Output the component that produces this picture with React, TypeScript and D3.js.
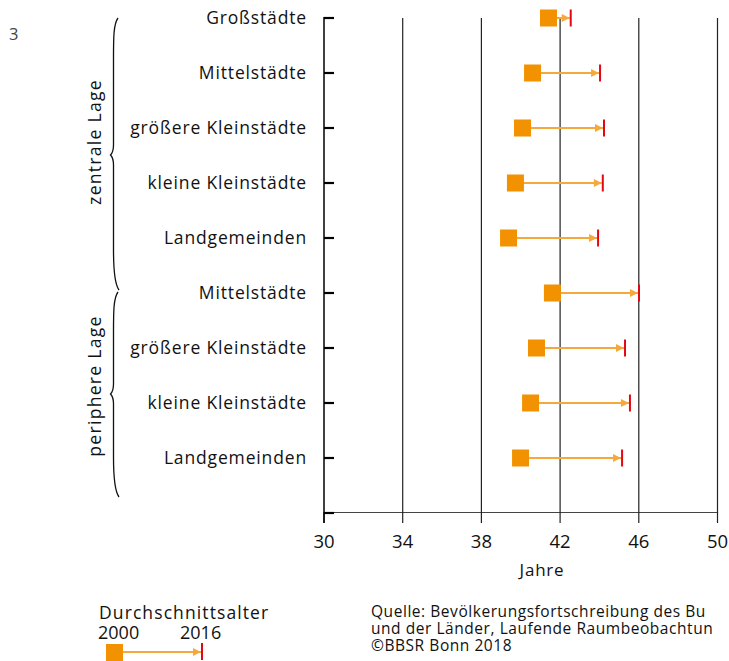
import React from "react";
import * as d3 from "d3";

const categories = [
  "Großstädte",
  "Mittelstädte",
  "größere Kleinstädte",
  "kleine Kleinstädte",
  "Landgemeinden",
  "Mittelstädte",
  "größere Kleinstädte",
  "kleine Kleinstädte",
  "Landgemeinden",
];
const age2000 = [41.41, 40.6, 40.09, 39.73, 39.38, 41.61, 40.8, 40.5, 39.99];
const age2016 = [42.54, 44.03, 44.23, 44.17, 43.93, 46.01, 45.3, 45.55, 45.15];
const xTicks = [30, 34, 38, 42, 46, 50];
const groups = [
  { label: "zentrale Lage", from: 0, to: 4 },
  { label: "periphere Lage", from: 5, to: 8 },
];
const sourceLines = [
  "Quelle: Bevölkerungsfortschreibung des Bu",
  "und der Länder, Laufende Raumbeobachtun",
  "©BBSR Bonn 2018",
];

const W = 729;
const H = 661;
const FONT = "'Open Sans', sans-serif";
const ORANGE = "#f39200";
const ARROW = "#f5a93c";
const RED = "#e30613";

export default function App() {
  const x = d3.scaleLinear().domain([30, 50]).range([324, 717.5]);
  const y = d3.scaleLinear().domain([0, 9]).range([18, 513]);
  const yTicks = d3.range(0, 10);
  const sq = 17;

  const bracePath = (top: number, mid: number, bottom: number) => {
    const xr = 118;
    const xl = 113.5;
    const xp = 110.5;
    return `M${xr},${top} C${xl},${top + 6} ${xl},${top + 20} ${xl},${top + 40} L${xl},${mid - 10} C${xl},${mid - 4} ${xp + 1},${mid - 1} ${xp},${mid} C${xp + 1},${mid + 1} ${xl},${mid + 4} ${xl},${mid + 10} L${xl},${bottom - 40} C${xl},${bottom - 20} ${xl + 1},${bottom - 6} ${xr + 1},${bottom}`;
  };

  const braces = [
    { top: 18, mid: 155, bottom: 290, labelY: 142 },
    { top: 292, mid: 394, bottom: 497, labelY: 386 },
  ];

  return (
    <svg
      width={W}
      height={H}
      style={{ position: "absolute", left: 0, top: 0, background: "#fff" }}
      fontFamily={FONT}
    >
      <defs>
        <marker
          id="ah"
          viewBox="0 0 10 10"
          refX="10"
          refY="5"
          markerWidth="9"
          markerHeight="8"
          markerUnits="userSpaceOnUse"
          orient="auto"
        >
          <path d="M0,0 L10,5 L0,10 Z" fill={ARROW} />
        </marker>
      </defs>
      <text x={9} y={40} fontSize={16.5} fill="#444">3</text>

      {/* grid lines */}
      {xTicks.slice(1).map((t) => (
        <line key={"g" + t} x1={x(t)} x2={x(t)} y1={y(0)} y2={y(9)} stroke="#222" strokeWidth={1.2} />
      ))}
      {/* x axis */}
      <line x1={x(30)} x2={x(50)} y1={y(9) - 0.5} y2={y(9) - 0.5} stroke="#444" strokeWidth={1} />
      {xTicks.map((t) => (
        <g key={"xt" + t}>
          <line x1={x(t)} x2={x(t)} y1={y(9) - 1} y2={y(9) + 10} stroke="#222" strokeWidth={1.2} />
          <text x={x(t)} y={548} fontSize={18.5} textAnchor="middle" fill="#111">{t}</text>
        </g>
      ))}
      <text x={542} y={576} fontSize={17} letterSpacing={0.8} textAnchor="middle" fill="#111">Jahre</text>

      {/* y axis */}
      <line x1={x(30)} x2={x(30)} y1={y(0) - 1} y2={y(9) + 10} stroke="#000" strokeWidth={1.5} />
      {yTicks.map((i) => (
        <line key={"yt" + i} x1={x(30)} x2={x(30) + 10} y1={y(i)} y2={y(i)} stroke="#000" strokeWidth={2.2} />
      ))}
      {categories.map((c, i) => (
        <text key={"c" + i} x={307} y={y(i) + 6} fontSize={17.5} letterSpacing={0.85} textAnchor="end" fill="#111">
          {c}
        </text>
      ))}

      {/* braces */}
      {braces.map((b, i) => (
        <g key={"b" + i}>
          <path d={bracePath(b.top, b.mid, b.bottom)} fill="none" stroke="#111" strokeWidth={1.3} />
          <text
            transform={`translate(101,${b.labelY}) rotate(-90)`}
            fontSize={17.5}
            letterSpacing={1.3}
            textAnchor="middle"
            fill="#111"
          >
            {groups[i].label}
          </text>
        </g>
      ))}

      {/* data */}
      {categories.map((c, i) => (
        <g key={"d" + i}>
          <line
            x1={x(age2000[i])}
            x2={x(age2016[i]) - 1}
            y1={y(i)}
            y2={y(i)}
            stroke={ARROW}
            strokeWidth={2}
            markerEnd="url(#ah)"
          />
          <rect x={x(age2000[i]) - sq / 2} y={y(i) - sq / 2} width={sq} height={sq} fill={ORANGE} />
          <line x1={x(age2016[i])} x2={x(age2016[i])} y1={y(i) - 8.5} y2={y(i) + 8.5} stroke={RED} strokeWidth={2} />
        </g>
      ))}

      {/* legend */}
      <text x={99} y={619} fontSize={17.5} letterSpacing={1.1} fill="#111">Durchschnittsalter</text>
      <text x={98} y={639} fontSize={18} fill="#111">2000</text>
      <text x={180} y={639} fontSize={18} fill="#111">2016</text>
      <line x1={115} x2={201} y1={652} y2={652} stroke={ARROW} strokeWidth={2} markerEnd="url(#ah)" />
      <rect x={106} y={644} width={17} height={17} fill={ORANGE} />
      <line x1={202} x2={202} y1={643} y2={660} stroke={RED} strokeWidth={2} />

      {/* source */}
      {sourceLines.map((s, i) => (
        <text key={"s" + i} x={371} y={617 + i * 17} fontSize={15.5} letterSpacing={0.55} fill="#111">
          {s}
        </text>
      ))}
    </svg>
  );
}
